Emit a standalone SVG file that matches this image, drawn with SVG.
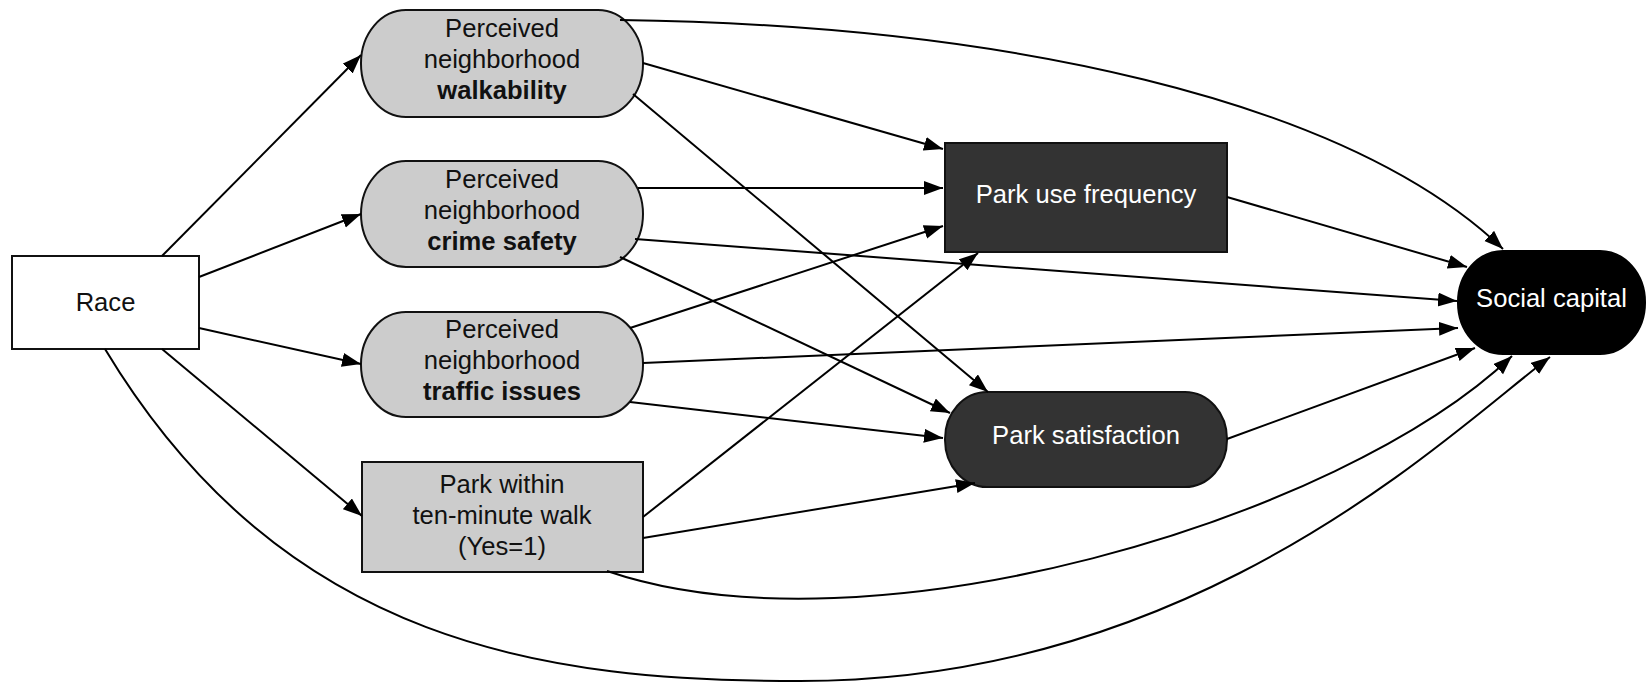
<svg xmlns="http://www.w3.org/2000/svg" width="1648" height="683" viewBox="0 0 1648 683">
<defs>
<marker id="arr" markerUnits="userSpaceOnUse" markerWidth="20" markerHeight="16" refX="19" refY="7" orient="auto">
<path d="M0,0 L19,7 L0,14 z" fill="#000"/>
</marker>
<style>
.t{font-family:"Liberation Sans",Arial,sans-serif;font-size:25.6px;text-anchor:middle;fill:#111}
.b{font-weight:bold}
.w{fill:#fff}
.g{fill:#cccccc;stroke:#111;stroke-width:2}
.d{fill:#333333;stroke:#111;stroke-width:2}
.k{fill:#000;stroke:#000;stroke-width:2}
.e{fill:none;stroke:#000;stroke-width:2;marker-end:url(#arr)}
</style>
</defs>
<rect width="1648" height="683" fill="#fff"/>
<g id="race">
<rect x="12" y="256" width="187" height="93" fill="#fff" stroke="#111" stroke-width="2"/>
<text class="t" x="105.5" y="311">Race</text>
</g>
<g id="walkability">
<rect class="g" x="361" y="10" width="282" height="107" rx="45" ry="53"/>
<text class="t" x="502" y="37">Perceived</text>
<text class="t" x="502" y="68">neighborhood</text>
<text class="t b" x="502" y="99">walkability</text>
</g>
<g id="crime">
<rect class="g" x="361" y="161" width="282" height="106" rx="45" ry="53"/>
<text class="t" x="502" y="188">Perceived</text>
<text class="t" x="502" y="219">neighborhood</text>
<text class="t b" x="502" y="250">crime safety</text>
</g>
<g id="traffic">
<rect class="g" x="361" y="312" width="282" height="105" rx="45" ry="52"/>
<text class="t" x="502" y="338">Perceived</text>
<text class="t" x="502" y="369">neighborhood</text>
<text class="t b" x="502" y="400">traffic issues</text>
</g>
<g id="parkwithin">
<rect class="g" x="362" y="462" width="281" height="110"/>
<text class="t" x="502" y="493">Park within</text>
<text class="t" x="502" y="524">ten-minute walk</text>
<text class="t" x="502" y="555">(Yes=1)</text>
</g>
<g id="parkuse">
<rect class="d" x="945" y="143" width="282" height="109"/>
<text class="t w" x="1086" y="203">Park use frequency</text>
</g>
<g id="parksat">
<rect class="d" x="945" y="392" width="282" height="95" rx="42" ry="47"/>
<text class="t w" x="1086" y="444">Park satisfaction</text>
</g>
<g id="social">
<rect class="k" x="1458" y="251" width="187" height="103" rx="45" ry="51"/>
<text class="t w" x="1551.5" y="307">Social capital</text>
</g>
<g id="connectors">
<path class="e" d="M162,256 L361,55"/>
<path class="e" d="M199,277 L361,214"/>
<path class="e" d="M199,328 L361,364"/>
<path class="e" d="M162,349 L362,516"/>
<path class="e" d="M105,349 C285,648 550,681 800,681 C1200,681 1450,432 1550,357"/>
<path class="e" d="M607,571 C867,660 1340,520 1512,356"/>
<path class="e" d="M620,20 C1000,25 1345,98 1503,249"/>
<path class="e" d="M643,63 L943,149"/>
<path class="e" d="M633,94 L988,392"/>
<path class="e" d="M638,188 L943,188"/>
<path class="e" d="M635,239 L1457,301"/>
<path class="e" d="M620,257 L950,413"/>
<path class="e" d="M630,328 L943,226"/>
<path class="e" d="M643,363 L1458,328"/>
<path class="e" d="M630,402 L943,438"/>
<path class="e" d="M643,517 L978,253"/>
<path class="e" d="M643,538 L975,483"/>
<path class="e" d="M1227,197 L1467,267"/>
<path class="e" d="M1227,439 L1475,348"/>
</g>
</svg>
